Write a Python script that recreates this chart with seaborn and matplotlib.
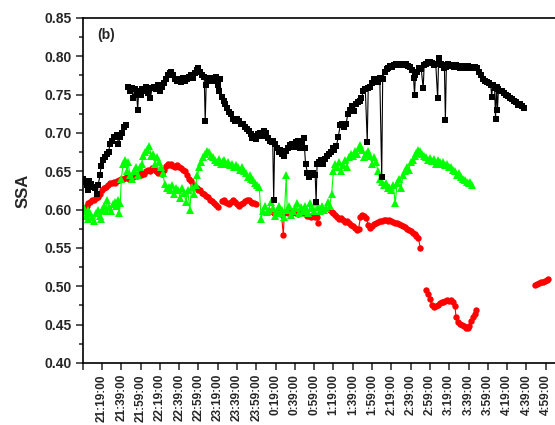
import numpy as np
import pandas as pd
import matplotlib
matplotlib.use('Agg')
import matplotlib.pyplot as plt
from matplotlib.ticker import MultipleLocator, FormatStrFormatter
import seaborn as sns

# minutes after 20:59:00, nan marks a break in the line
black_t = [0, 2, 4, 5, 7, 9, 11, 13, 15, 16, 18, 19, 21, 23, 25, 27, 28, 30, 32, 34, 36, 37, 39, 41, 43, 45,
           np.nan,
           47, 49, 51, 52, 54, 56, 57, 58, 60, 62, 64, 66, 68, 70, 72, 74, 76, 78, 80, 82, 84, 86, 88, 90,
           92, 94, 96, 98, 100, 102, 104, 106, 108, 110, 112, 114, 116, 118, 120, 122, 124, 126, 127, 128,
           130, 132, 134, 136, 138, 140, 141, 142, 144, 146, 148, 150, 152, 154, 156, 158, 160, 162, 164,
           166, 168, 170, 172, 174, 176, 178, 180, 182, 184, 186, 188, 190, 192, 194, 196, 197, 198, 199,
           201, 203, 205, 207, 209, 211, 213, 215, 217, 219, 221, 223, 225, 227, 229, 230, 231, 233, 235,
           237, 239, 241, 242, 243, 245, 247, 249, 251, 253, 255, 257, 259, 261, 263, 265, 267, 269, 271,
           273, 275, 277, 279, 281, 283, 285, 287, 289, 291, 293, 295, 296, 298, 300, 302, 304, 306, 308,
           310, 311, 313, 315, 317, 319, 321, 323, 325, 327, 329, 331, 333, 335, 337, 339, 341, 343, 344,
           345, 347, 349, 351, 353, 354, 356, 358, 360, 362, 364, 366, 368, 369, 371, 373, 375, 376, 377,
           379, 381, 383, 385, 387, 389, 391, 393, 395, 397, 399, 401, 403, 405, 407, 409, 411, 413, 415,
           417, 419, 421, 423, 424, 425, 427, 428, 429, 430, 431, 433, 435, 437, 439, 441, 443, 445, 447,
           449, 451, 453, 455, 457]
black_ssa = [0.640, 0.636, 0.632, 0.625, 0.637, 0.633, 0.630, 0.628, 0.620, 0.632, 0.645, 0.657, 0.665, 0.668,
             0.672, 0.675, 0.685, 0.690, 0.695, 0.694, 0.697, 0.685, 0.695, 0.700, 0.708, 0.710,
             np.nan,
             0.760, 0.755, 0.758, 0.745, 0.757, 0.750, 0.730, 0.755, 0.750, 0.757, 0.755, 0.760, 0.752, 0.745,
             0.758, 0.760, 0.757, 0.762, 0.755, 0.760, 0.765, 0.770, 0.775, 0.778, 0.780, 0.775, 0.770, 0.768,
             0.770, 0.767, 0.772, 0.768, 0.770, 0.773, 0.775, 0.772, 0.778, 0.782, 0.785, 0.780, 0.776, 0.773,
             0.715, 0.762, 0.770, 0.772, 0.768, 0.770, 0.773, 0.762, 0.755, 0.770, 0.747, 0.742, 0.738, 0.732,
             0.727, 0.724, 0.718, 0.716, 0.718, 0.715, 0.712, 0.712, 0.708, 0.705, 0.703, 0.698, 0.693, 0.696,
             0.692, 0.698, 0.700, 0.696, 0.703, 0.700, 0.693, 0.690, 0.688, 0.690, 0.612, 0.685, 0.680, 0.675,
             0.678, 0.672, 0.670, 0.676, 0.680, 0.684, 0.686, 0.682, 0.688, 0.690, 0.680, 0.688, 0.693, 0.680,
             0.660, 0.648, 0.643, 0.645, 0.648, 0.645, 0.610, 0.660, 0.662, 0.664, 0.660, 0.666, 0.670, 0.672,
             0.675, 0.680, 0.678, 0.683, 0.695, 0.710, 0.712, 0.708, 0.712, 0.725, 0.730, 0.735, 0.728, 0.738,
             0.740, 0.742, 0.745, 0.755, 0.757, 0.688, 0.758, 0.760, 0.765, 0.770, 0.768, 0.766, 0.772, 0.643,
             0.770, 0.780, 0.783, 0.785, 0.787, 0.786, 0.788, 0.790, 0.789, 0.790, 0.788, 0.789, 0.790, 0.787,
             0.786, 0.782, 0.772, 0.750, 0.775, 0.780, 0.785, 0.783, 0.758, 0.788, 0.790, 0.792, 0.793, 0.791,
             0.788, 0.790, 0.745, 0.797, 0.790, 0.788, 0.785, 0.717, 0.786, 0.790, 0.788, 0.787, 0.786, 0.788,
             0.787, 0.785, 0.786, 0.787, 0.785, 0.787, 0.786, 0.784, 0.785, 0.786, 0.784, 0.780, 0.775, 0.770,
             0.768, 0.766, 0.765, 0.763, 0.747, 0.762, 0.758, 0.718, 0.760, 0.730, 0.757, 0.755, 0.754, 0.752,
             0.750, 0.748, 0.746, 0.744, 0.742, 0.740, 0.737, 0.738, 0.735, 0.733]

green_t = [0, 1, 3, 5, 6, 8, 10, 12, 14, 16, 18, 19, 20, 22, 24, 25, 27, 29, 31, 33, 35, 37, 38, 39, 40, 42,
           44, 46, 47, 49, 51, 53, 55, 57, 59, 61, 63, 65, 67, 69, 71, 73, 75, 77, 79, 81, 83, 85, 87, 89, 91,
           93, 95, 97, 99, 101, 103, 105, 107, 109, 111, 113, 115, 117, 119, 121, 123, 125, 127, 129, 131, 133,
           135, 137, 139, 141, 143, 145, 147, 149, 151, 153, 155, 157, 159, 161, 163, 165, 167, 169, 171, 173,
           175, 177, 179, 181, 183, 185, 187, 189, 191, 193, 195, 197, 199, 201, 203, 205, 207, 209, 211, 212,
           214, 216, 218, 220, 222, 224, 226, 228, 230, 232, 234, 236, 238, 240, 242, 244, 246, 248, 250, 252,
           254, 256, 258, 260, 262, 264, 266, 268, 270, 272, 274, 276, 278, 280, 282, 284, 286, 288, 290, 292,
           294, 296, 298, 300, 302, 304, 306, 308, 310, 312, 314, 316, 318, 320, 322, 324, 326, 328, 330, 332,
           334, 336, 338, 340, 342, 344, 346, 348, 350, 352, 354, 356, 358, 360, 362, 364, 366, 368, 370, 372,
           374, 376, 378, 380, 382, 384, 386, 388, 390, 392, 394, 396, 398, 400, 402, 404]
green_ssa = [0.605, 0.598, 0.592, 0.600, 0.588, 0.595, 0.590, 0.585, 0.595, 0.600, 0.592, 0.588, 0.600, 0.605,
             0.598, 0.612, 0.603, 0.598, 0.607, 0.610, 0.605, 0.612, 0.595, 0.608, 0.640, 0.660, 0.665, 0.650,
             0.662, 0.645, 0.640, 0.650, 0.655, 0.645, 0.655, 0.660, 0.670, 0.675, 0.678, 0.683, 0.670, 0.672,
             0.660, 0.668, 0.662, 0.655, 0.648, 0.633, 0.628, 0.630, 0.625, 0.632, 0.620, 0.628, 0.626, 0.615,
             0.628, 0.622, 0.610, 0.625, 0.600, 0.630, 0.620, 0.632, 0.645, 0.655, 0.662, 0.668, 0.673, 0.677,
             0.675, 0.670, 0.668, 0.665, 0.662, 0.666, 0.660, 0.663, 0.665, 0.660, 0.662, 0.658, 0.660, 0.656,
             0.658, 0.655, 0.652, 0.655, 0.650, 0.648, 0.642, 0.645, 0.640, 0.638, 0.635, 0.632, 0.630, 0.588,
             0.598, 0.605, 0.597, 0.600, 0.610, 0.602, 0.592, 0.598, 0.605, 0.595, 0.600, 0.590, 0.645, 0.600,
             0.605, 0.593, 0.598, 0.602, 0.608, 0.596, 0.603, 0.598, 0.605, 0.600, 0.595, 0.608, 0.602, 0.598,
             0.610, 0.603, 0.598, 0.605, 0.600, 0.602, 0.610, 0.605, 0.620, 0.650, 0.660, 0.655, 0.662, 0.650,
             0.658, 0.665, 0.655, 0.668, 0.672, 0.670, 0.676, 0.672, 0.680, 0.684, 0.678, 0.668, 0.672, 0.676,
             0.670, 0.660, 0.668, 0.662, 0.650, 0.640, 0.636, 0.632, 0.635, 0.628, 0.630, 0.625, 0.632, 0.608,
             0.635, 0.640, 0.628, 0.645, 0.650, 0.655, 0.652, 0.662, 0.665, 0.670, 0.674, 0.678, 0.676, 0.672,
             0.670, 0.668, 0.665, 0.667, 0.663, 0.666, 0.660, 0.664, 0.662, 0.660, 0.662, 0.658, 0.660, 0.656,
             0.655, 0.652, 0.650, 0.645, 0.648, 0.642, 0.640, 0.638, 0.636, 0.634, 0.636, 0.632]

red_t = [0, 2, 4, 6, 8, 10, 12, 14, 16, 18, 20, 22, 24, 26, 28, 30, 32, 34, 36, 38, 40, 42, 44, 46, 48, 50,
         52, 54, 56, 58, 60, 62, 64, 66, 68, 70, 72, 74, 76, 78, 80, 82, 84, 86, 88, 90, 92, 94, 96, 98, 100,
         102, 104, 106, 108, 110, 112, 114, 116, 118, 120, 122, 124, 126, 128, 130, 132, 134, 136, 138, 140,
         np.nan,
         144, 146, 148, 150, 152, 154, 156, 158, 160, 162, 164, 166, 168, 170, 172, 174, 176, 178, 180,
         np.nan,
         195, 198, 200, 202, 204, 206, 208, 209, 211, 213, 215, 217, 219, 221, 223, 225, 227, 229, 231, 233,
         235, 237, 239, 241, 243, 244,
         np.nan,
         256, 258, 260, 262, 264, 266, 268, 270, 272, 274, 276, 278, 280, 282, 284, 286, 288, 290, 292, 294,
         296, 298, 300, 302, 304, 306, 308, 310, 312, 314, 316, 318, 320, 322, 324, 326, 328, 330, 332, 334,
         336, 338, 340, 342, 344, 346, 348, 350,
         np.nan,
         356, 358, 360, 362, 364, 366, 368, 370, 372, 374, 376, 378, 380, 382, 384, 386, 387, 389, 391, 393,
         395, 397, 399, 401, 403, 405, 407, 408,
         np.nan,
         469, 471, 473, 475, 477, 479, 481, 482]
red_ssa = [0.602, 0.600, 0.605, 0.608, 0.610, 0.612, 0.613, 0.615, 0.617, 0.620, 0.625, 0.628, 0.630, 0.632,
           0.634, 0.635, 0.636, 0.634, 0.637, 0.638, 0.640, 0.640, 0.641, 0.642, 0.640, 0.643, 0.642, 0.645,
           0.644, 0.646, 0.645, 0.648, 0.647, 0.650, 0.652, 0.650, 0.654, 0.653, 0.650, 0.648, 0.650, 0.647,
           0.652, 0.657, 0.660, 0.658, 0.660, 0.657, 0.655, 0.658, 0.656, 0.654, 0.652, 0.650, 0.645, 0.640,
           0.637, 0.632, 0.630, 0.628, 0.625, 0.625, 0.622, 0.620, 0.618, 0.616, 0.613, 0.611, 0.609, 0.606,
           0.603,
           np.nan,
           0.611, 0.613, 0.610, 0.608, 0.607, 0.610, 0.612, 0.610, 0.607, 0.605, 0.607, 0.609, 0.611, 0.613,
           0.612, 0.610, 0.609, 0.608, 0.607,
           np.nan,
           0.598, 0.595, 0.597, 0.596, 0.595, 0.594, 0.567, 0.595, 0.597, 0.596, 0.597, 0.595, 0.598, 0.596,
           0.594, 0.595, 0.597, 0.596, 0.594, 0.592, 0.591, 0.590, 0.592, 0.590, 0.590, 0.583,
           np.nan,
           0.600, 0.597, 0.595, 0.593, 0.590, 0.588, 0.589, 0.586, 0.584, 0.585, 0.582, 0.580, 0.578, 0.576,
           0.574, 0.575, 0.590, 0.593, 0.591, 0.589, 0.580, 0.576, 0.578, 0.581, 0.583, 0.584, 0.585, 0.585,
           0.586, 0.586, 0.585, 0.586, 0.585, 0.584, 0.583, 0.582, 0.581, 0.580, 0.579, 0.577, 0.575, 0.573,
           0.572, 0.570, 0.568, 0.566, 0.563, 0.550,
           np.nan,
           0.495, 0.490, 0.483, 0.476, 0.473, 0.474, 0.476, 0.478, 0.479, 0.480, 0.481, 0.482, 0.481, 0.482,
           0.480, 0.474, 0.460, 0.453, 0.451, 0.450, 0.448, 0.446, 0.445, 0.448, 0.455, 0.460, 0.464, 0.469,
           np.nan,
           0.502, 0.503, 0.504, 0.505, 0.506, 0.507, 0.508, 0.509]

tick_labels = ['21:19:00', '21:39:00', '21:59:00', '22:19:00', '22:39:00', '22:59:00', '23:19:00',
               '23:39:00', '23:59:00', '0:19:00', '0:39:00', '0:59:00', '1:19:00', '1:39:00', '1:59:00',
               '2:19:00', '2:39:00', '2:59:00', '3:19:00', '3:39:00', '3:59:00', '4:19:00', '4:39:00',
               '4:59:00']


def to_frame(t, v):
    df = pd.DataFrame({'t': t, 'ssa': v})
    df['seg'] = df['ssa'].isna().cumsum()
    return df.dropna()


sns.set_style('ticks')
plt.rcParams['font.family'] = ['Liberation Sans', 'DejaVu Sans']
plt.rcParams['font.weight'] = 'bold'

fig = plt.figure(figsize=(5.55, 4.25), dpi=100)
ax = fig.add_axes([0.149, 0.146, 0.869, 0.812])

sns.lineplot(data=to_frame(red_t, red_ssa), x='t', y='ssa', units='seg', estimator=None, sort=False,
             color='#ff0000', marker='o', markersize=4.6, markeredgewidth=0, linewidth=0.8, ax=ax)
sns.lineplot(data=to_frame(green_t, green_ssa), x='t', y='ssa', units='seg', estimator=None, sort=False,
             color='#00ff00', marker='^', markersize=5.6, markeredgewidth=0, linewidth=0.8, ax=ax)
sns.lineplot(data=to_frame(black_t, black_ssa), x='t', y='ssa', units='seg', estimator=None, sort=False,
             color='#000000', marker='s', markersize=4.2, markeredgewidth=0, linewidth=0.8, ax=ax)

ax.set_xlim(0, 500)
ax.set_ylim(0.40, 0.85)
ax.set_xticks(np.arange(0, 481, 20))
ax.set_xticklabels([''] + tick_labels, rotation=90, fontsize=8.5, fontweight='bold')
ax.yaxis.set_major_locator(MultipleLocator(0.05))
ax.yaxis.set_minor_locator(MultipleLocator(0.025))
ax.yaxis.set_major_formatter(FormatStrFormatter('%.2f'))
for lab in ax.get_yticklabels():
    lab.set_fontsize(10)
    lab.set_fontweight('bold')
ax.tick_params(axis='both', which='major', direction='out', length=5, width=1.1, pad=3)
ax.tick_params(axis='y', which='minor', direction='out', length=3, width=1.1)
for s in ax.spines.values():
    s.set_linewidth(1.2)
    s.set_color('black')
ax.set_xlabel('')
ax.set_ylabel('SSA', fontsize=12, fontweight='bold', labelpad=10)
ax.text(0.03, 0.972, '(b)', transform=ax.transAxes, fontsize=10, fontweight='bold', va='top', ha='left')

fig.savefig('out.png', dpi=100)
